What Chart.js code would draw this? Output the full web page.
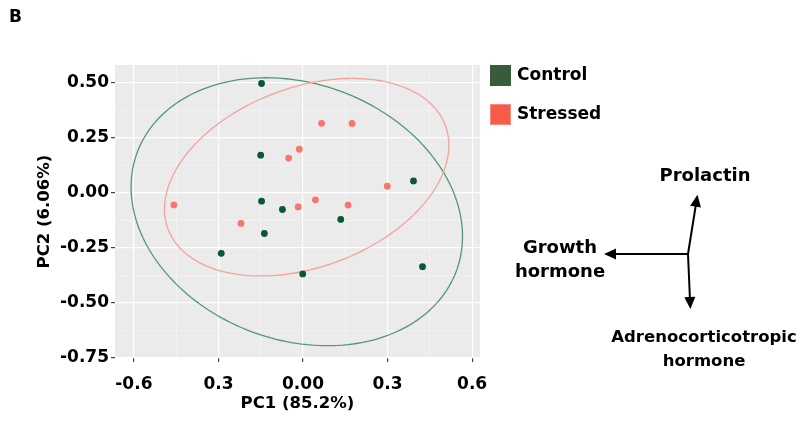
<!DOCTYPE html>
<html>
<head>
<meta charset="utf-8">
<script src="https://cdn.jsdelivr.net/npm/chart.js@4"></script>
<style>
    html, body { margin: 0; padding: 0; background: #fff; }
    #wrap { position: relative; width: 810px; height: 432px; }
</style>
</head>
<body>
<div id="wrap"><canvas id="pca_chart"></canvas></div>
<script>
// scores
const groups = ["Control", "Stressed"];
const controlPC1 = [-0.147, -0.150, 0.392, -0.147, -0.073, 0.134, -0.137, -0.290, -0.001, 0.424];
const controlPC2 = [0.498, 0.172, 0.055, -0.037, -0.075, -0.120, -0.184, -0.274, -0.368, -0.335];
const stressedPC1 = [0.066, 0.174, -0.013, -0.051, 0.299, -0.458, 0.044, -0.017, 0.160, -0.220];
const stressedPC2 = [0.317, 0.316, 0.199, 0.159, 0.031, -0.054, -0.031, -0.063, -0.055, -0.138];

// ellipses: centre and shape matrix [sxx, sxy, syy]
const ellipseCentres = [[-0.022, -0.085], [0.013, 0.072]];
const ellipseShapes = [[0.3457, -0.066, 0.371], [0.2545, 0.073, 0.2016]];

const xTicks = [-0.6, -0.3, 0, 0.3, 0.6];
const xTickLabels = ["-0.6", "0.3", "0.00", "0.3", "0.6"];
const yTicks = [-0.75, -0.5, -0.25, 0, 0.25, 0.5];
const yTickLabels = ["-0.75", "-0.50", "-0.25", "0.00", "0.25", "0.50"];

// loading arrows (relative directions) and their labels
const loadingNames = [["Prolactin"], ["Growth", "hormone"], ["Adrenocorticotropic", "hormone"]];
const loadingDx = [0.16, -1, 0.04];
const loadingDy = [-1, 0, 0.92];

const pointColors = ["#0b5830", "#f8766d"];
const ellipseColors = ["#52967a", "#f4a39c"];
const legendFill = ["#365c3b", "#f65b49"];
const legendStroke = ["#365c3b", "#fa8b7e"];
const FONT = "'DejaVu Sans', sans-serif";

function withMinor(major) {
    let out = [];
    for(let i = 0; i < major.length; i++) {
        out.push(major[i]);
        if(i < major.length - 1) out.push((major[i] + major[i + 1]) / 2);
    }
    return out;
}
const isMajor = (list, v) => list.some(t => Math.abs(t - v) < 1e-6);

const panelPlugin = {
    id: "panel",
    beforeDraw(chart) {
        const {ctx, chartArea: a} = chart;
        ctx.save();
        ctx.fillStyle = "#ebebeb";
        ctx.fillRect(a.left, a.top, a.right - a.left, a.bottom - a.top);
        ctx.restore();
    },
    beforeDatasetsDraw(chart) {
        const {ctx, chartArea: a, scales} = chart;
        ctx.save();
        ctx.beginPath();
        ctx.rect(a.left, a.top, a.right - a.left, a.bottom - a.top);
        ctx.clip();
        for(let g = 0; g < ellipseCentres.length; g++) {
            const [cx, cy] = ellipseCentres[g];
            const [sxx, sxy, syy] = ellipseShapes[g];
            const l11 = Math.sqrt(sxx), l21 = sxy / l11, l22 = Math.sqrt(syy - l21 * l21);
            ctx.beginPath();
            for(let i = 0; i <= 200; i++) {
                const t = i / 200 * Math.PI * 2;
                const x = cx + l11 * Math.cos(t);
                const y = cy + l21 * Math.cos(t) + l22 * Math.sin(t);
                const px = scales.x.getPixelForValue(x), py = scales.y.getPixelForValue(y);
                if(i == 0) ctx.moveTo(px, py); else ctx.lineTo(px, py);
            }
            ctx.strokeStyle = ellipseColors[g];
            ctx.lineWidth = 1.3;
            ctx.stroke();
        }
        ctx.restore();
    },
    afterDraw(chart) {
        const ctx = chart.ctx;
        ctx.save();
        ctx.fillStyle = "#000";
        ctx.textBaseline = "middle";
        ctx.font = `bold 17px ${FONT}`;
        ctx.fillText("B", 9, 18);

        // legend
        ctx.font = `bold 17px ${FONT}`;
        for(let g = 0; g < groups.length; g++) {
            const y = 65 + g * 39;
            ctx.fillStyle = legendFill[g];
            ctx.fillRect(490, y, 21, 21);
            ctx.strokeStyle = legendStroke[g];
            ctx.lineWidth = 1;
            ctx.strokeRect(490.5, y + 0.5, 20, 20);
            ctx.fillStyle = "#000";
            ctx.fillText(groups[g], 517, y + 11);
        }

        // loading arrows
        const ox = 688, oy = 254, len = [60, 84, 55];
        const labelPos = [[705, 176], [560, 248], [704, 338]];
        ctx.strokeStyle = "#000";
        ctx.fillStyle = "#000";
        ctx.lineWidth = 2;
        for(let i = 0; i < loadingNames.length; i++) {
            const n = Math.hypot(loadingDx[i], loadingDy[i]);
            const ux = loadingDx[i] / n, uy = loadingDy[i] / n;
            const ex = ox + ux * len[i], ey = oy + uy * len[i];
            ctx.beginPath();
            ctx.moveTo(ox, oy);
            ctx.lineTo(ex - ux * 8, ey - uy * 8);
            ctx.stroke();
            ctx.beginPath();
            ctx.moveTo(ex, ey);
            ctx.lineTo(ex - ux * 12 - uy * 5.5, ey - uy * 12 + ux * 5.5);
            ctx.lineTo(ex - ux * 12 + uy * 5.5, ey - uy * 12 - ux * 5.5);
            ctx.closePath();
            ctx.fill();
            ctx.font = `bold ${i == 2 ? 16.5 : 18}px ${FONT}`;
            ctx.textAlign = "center";
            loadingNames[i].forEach((line, k) => ctx.fillText(line, labelPos[i][0], labelPos[i][1] + k * 24));
        }
        ctx.restore();
    }
};

new Chart(document.getElementById("pca_chart").getContext("2d"), {
    type: "scatter",
    data: {
        datasets: [{
            label: groups[0],
            data: controlPC1.map((x, i) => ({x: x, y: controlPC2[i]})),
            backgroundColor: pointColors[0],
            borderColor: pointColors[0],
            pointRadius: 3.4,
            borderWidth: 0
        }, {
            label: groups[1],
            data: stressedPC1.map((x, i) => ({x: x, y: stressedPC2[i]})),
            backgroundColor: pointColors[1],
            borderColor: pointColors[1],
            pointRadius: 3.4,
            borderWidth: 0
        }]
    },
    options: {
        responsive: true,
        maintainAspectRatio: false,
        animation: false,
        layout: { padding: { top: 65, right: 330, left: 0, bottom: 0 } },
        plugins: { legend: { display: false }, tooltip: { enabled: false } },
        scales: {
            x: {
                type: "linear",
                min: -0.667,
                max: 0.628,
                afterBuildTicks: scale => { scale.ticks = withMinor(xTicks).map(v => ({value: v})); },
                afterFit: scale => { scale.height = 74; },
                border: { display: false },
                grid: {
                    color: c => isMajor(xTicks, c.tick.value) ? "#ffffff" : "#f4f4f4",
                    lineWidth: c => isMajor(xTicks, c.tick.value) ? 1.2 : 0.8,
                    tickColor: c => isMajor(xTicks, c.tick.value) ? "#444" : "rgba(0,0,0,0)",
                    tickLength: 4
                },
                ticks: {
                    autoSkip: false,
                    maxRotation: 0,
                    padding: 12,
                    color: "#000",
                    font: { family: FONT, size: 17, weight: "bold" },
                    callback: value => {
                        let i = xTicks.findIndex(t => Math.abs(t - value) < 1e-6);
                        return i < 0 ? "" : xTickLabels[i];
                    }
                },
                title: {
                    display: true,
                    text: "PC1 (85.2%)",
                    color: "#000",
                    font: { family: FONT, size: 16.5, weight: "bold" },
                    padding: { top: 0, bottom: 18 }
                }
            },
            y: {
                type: "linear",
                min: -0.75,
                max: 0.582,
                afterBuildTicks: scale => { scale.ticks = withMinor(yTicks).map(v => ({value: v})); },
                afterFit: scale => { scale.width = 115; },
                border: { display: false },
                grid: {
                    color: c => isMajor(yTicks, c.tick.value) ? "#ffffff" : "#f4f4f4",
                    lineWidth: c => isMajor(yTicks, c.tick.value) ? 1.2 : 0.8,
                    tickColor: c => isMajor(yTicks, c.tick.value) ? "#444" : "rgba(0,0,0,0)",
                    tickLength: 4
                },
                ticks: {
                    autoSkip: false,
                    padding: 2,
                    color: "#000",
                    font: { family: FONT, size: 17, weight: "bold" },
                    callback: value => {
                        let i = yTicks.findIndex(t => Math.abs(t - value) < 1e-6);
                        return i < 0 ? "" : yTickLabels[i];
                    }
                },
                title: {
                    display: true,
                    text: "PC2 (6.06%)",
                    color: "#000",
                    font: { family: FONT, size: 16.5, weight: "bold" },
                    padding: { top: 35, bottom: 0 }
                }
            }
        }
    },
    plugins: [panelPlugin]
});
</script>
</body>
</html>
